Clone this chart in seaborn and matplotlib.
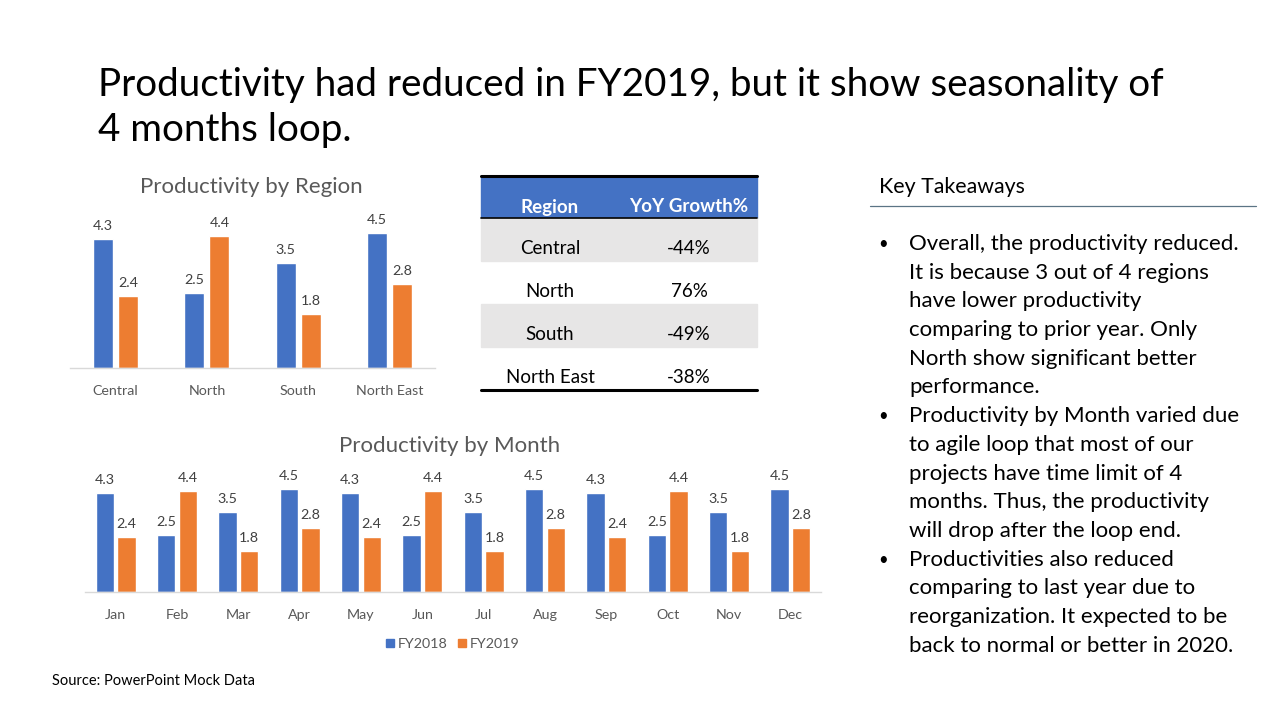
import pandas as pd
import matplotlib
matplotlib.use("Agg")
import matplotlib.pyplot as plt
import seaborn as sn

# data
regions = ["Central", "North", "South", "North East"]
region_fy2018 = [4.3, 2.5, 3.5, 4.5]
region_fy2019 = [2.4, 4.4, 1.8, 2.8]
yoy_growth = ["-44%", "76%", "-49%", "-38%"]

months = ["Jan", "Feb", "Mar", "Apr", "May", "Jun", "Jul", "Aug", "Sep", "Oct", "Nov", "Dec"]
month_fy2018 = [4.3, 2.5, 3.5, 4.5, 4.3, 2.5, 3.5, 4.5, 4.3, 2.5, 3.5, 4.5]
month_fy2019 = [2.4, 4.4, 1.8, 2.8, 2.4, 4.4, 1.8, 2.8, 2.4, 4.4, 1.8, 2.8]

years = ["FY2018", "FY2019"]
cores = {"FY2018": "#4472C4", "FY2019": "#ED7D31"}

takeaways = [
    ["Overall, the productivity reduced.",
     "It is because 3 out of 4 regions",
     "have lower productivity",
     "comparing to prior year. Only",
     "North show significant better",
     "performance."],
    ["Productivity by Month varied due",
     "to agile loop that most of our",
     "projects have time limit of 4",
     "months. Thus, the productivity",
     "will drop after the loop end."],
    ["Productivities also reduced",
     "comparing to last year due to",
     "reorganization. It expected to be",
     "back to normal or better in 2020."],
]

sn.set_theme(style="white")
plt.rcParams["font.family"] = ["Lato", "DejaVu Sans"]

W, H = 1280, 720
fig = plt.figure(figsize=(W / 100, H / 100), dpi=100)
fig.patch.set_facecolor("white")


def eixo_px(x0, y0, x1, y1):
    # axes positioned in slide pixels (top-left origin)
    return fig.add_axes([x0 / W, 1 - y1 / H, (x1 - x0) / W, (y1 - y0) / H])


def long_df(cats, a, b, nome):
    return pd.DataFrame({
        nome: cats * 2,
        "valor": a + b,
        "ano": [years[0]] * len(cats) + [years[1]] * len(cats),
    })


def grafico_barras(ax, df, nome, largura, gap, fs_tick):
    sn.barplot(data=df, x=nome, y="valor", hue="ano", palette=cores,
               width=largura, gap=gap, ax=ax, legend=False, saturation=1)
    for c in ax.containers:
        ax.bar_label(c, fmt="%.1f", padding=5, fontsize=fs_tick, color="#404040")
    ax.set_ylim(0, 5)
    ax.set_xlim(-0.5, len(df[nome].unique()) - 0.5)
    ax.set_xlabel("")
    ax.set_ylabel("")
    ax.set_yticks([])
    for s in ["top", "right", "left"]:
        ax.spines[s].set_visible(False)
    ax.spines["bottom"].set_color("#D9D9D9")
    ax.spines["bottom"].set_linewidth(1)
    ax.tick_params(axis="x", length=0, labelsize=fs_tick, labelcolor="#595959", pad=12)
    ax.set_facecolor("none")


# region chart
ax_r = eixo_px(70, 218, 435, 368)
grafico_barras(ax_r, long_df(regions, region_fy2018, region_fy2019, "regiao"),
               "regiao", 0.55, 0.2, 10.3)

# month chart
ax_m = eixo_px(85, 477, 821, 592)
grafico_barras(ax_m, long_df(months, month_fy2018, month_fy2019, "mes"),
               "mes", 0.7, 0.15, 10.3)

# overlay for slide text, table, lines
ov = fig.add_axes([0, 0, 1, 1])
ov.set_xlim(0, W)
ov.set_ylim(H, 0)
ov.axis("off")
ov.set_zorder(-1)

ov.text(98, 85, "Productivity had reduced in FY2019, but it show seasonality of",
        fontsize=27.8, color="black", va="center", ha="left")
ov.text(98, 130, "4 months loop.", fontsize=27.8, color="black", va="center", ha="left")

ov.text(251, 187, "Productivity by Region", fontsize=16, color="#595959", ha="center", va="center")
ov.text(450, 446, "Productivity by Month", fontsize=16, color="#595959", ha="center", va="center")

# legend
for i, ano in enumerate(years):
    x = 386 + i * 72
    ov.add_patch(plt.Rectangle((x, 639), 8, 8, color=cores[ano]))
    ov.text(x + 12, 644, ano, fontsize=10.3, color="#595959", va="center", ha="left")

ov.text(52, 681, "Source: PowerPoint Mock Data", fontsize=10.5, color="black", va="center")

# table
tx0, tx1 = 481, 757
topo, cab = 176, 218
alt_linha = 43
ov.add_patch(plt.Rectangle((tx0, topo), tx1 - tx0, cab - topo, color="#4472C4"))
for i in range(len(regions)):
    y0 = cab + i * alt_linha
    if i % 2 == 0:
        ov.add_patch(plt.Rectangle((tx0, y0), tx1 - tx0, alt_linha, color="#E7E6E6"))
    yc = y0 + alt_linha * 0.72
    ov.text(550, yc, regions[i], fontsize=13.5, color="black", ha="center", va="center")
    ov.text(689, yc, yoy_growth[i], fontsize=13.5, color="black", ha="center", va="center")
ov.text(550, 207, "Region", fontsize=13.5, color="white", fontweight="bold", ha="center", va="center")
ov.text(689, 207, "YoY Growth%", fontsize=13.5, color="white", fontweight="bold", ha="center", va="center")
fim = cab + len(regions) * alt_linha
ov.plot([tx0, tx1], [topo, topo], color="black", lw=2.2)
ov.plot([tx0, tx1], [cab, cab], color="black", lw=1.2)
ov.plot([tx0, tx1], [fim, fim], color="black", lw=2.2)

# key takeaways
ov.text(879, 187, "Key Takeaways", fontsize=15.4, color="black", va="center")
ov.plot([870, 1256], [206, 206], color="#5B7485", lw=0.9)
y = 244
passo = 28.7
for bloco in takeaways:
    ov.text(883, y, "\u2022", fontsize=12, color="black", va="center", ha="center")
    for linha in bloco:
        ov.text(909, y, linha, fontsize=16, color="black", va="center", ha="left")
        y += passo

fig.savefig("out.png", dpi=100, facecolor="white")
